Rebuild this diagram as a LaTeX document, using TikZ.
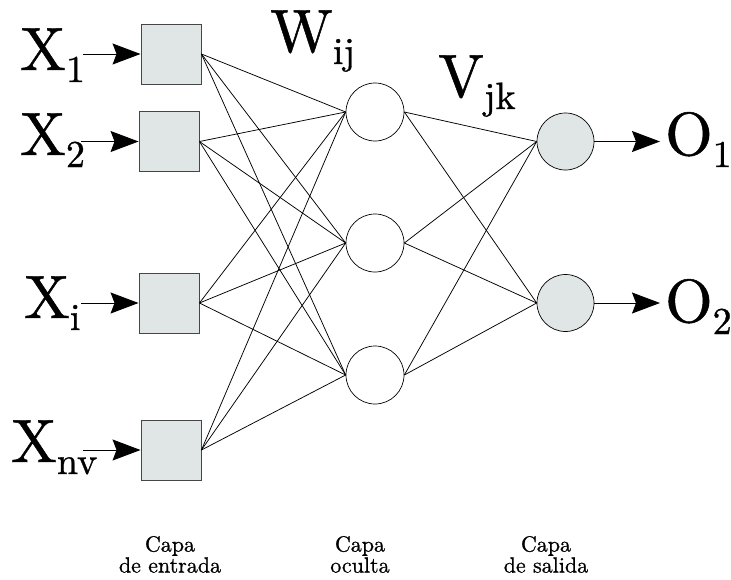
\documentclass[tikz,border=0pt]{standalone}
\usepackage{fontspec}
\setmainfont{lmroman10-regular.otf}[FakeBold=0.8]
\usetikzlibrary{arrows.meta}
\definecolor{cellfill}{RGB}{224,229,229}
\definecolor{cellline}{RGB}{70,70,70}
% large symbol with a lowered index
\newcommand{\varlbl}[2]{{\fontsize{61}{61}\selectfont #1}{\fontsize{38}{38}\selectfont\raisebox{-12pt}{#2}}}
\begin{document}
\begin{tikzpicture}[x=1pt,y=-1pt,
  inunit/.style={rectangle, draw=cellline, fill=cellfill, line width=0.9pt, minimum size=60pt, inner sep=0},
  hidunit/.style={circle, draw=black, fill=white, line width=0.7pt, minimum size=58pt, inner sep=0},
  outunit/.style={hidunit, fill=cellfill, minimum size=57pt},
  link/.style={line width=0.75pt},
  feed/.style={line width=1pt, -{Stealth[length=28pt,width=21pt,inset=4pt]}},
  varname/.style={anchor=base west, inner sep=0},
  layername/.style={anchor=south, inner sep=0, align=center, font=\fontsize{22}{21}\selectfont}]
\useasboundingbox (0,0) rectangle (731,579);

% input layer
\node[inunit] (in1) at (171,54) {};
\node[inunit] (in2) at (169,141.5) {};
\node[inunit] (ini) at (169,303) {};
\node[inunit] (inn) at (171,450) {};

% hidden layer
\node[hidunit] (h1) at (375,112) {};
\node[hidunit] (h2) at (375,243) {};
\node[hidunit] (h3) at (375,375) {};

% output layer
\node[outunit] (o1) at (565.5,141.5) {};
\node[outunit] (o2) at (565.5,303) {};

% weights input -> hidden
\foreach \a in {in1,in2,ini,inn}
  \foreach \b in {h1,h2,h3}
    \draw[link] (\a.east) -- (\b.west);
% weights hidden -> output
\foreach \a in {h1,h2,h3}
  \foreach \b in {o1,o2}
    \draw[link] (\a.east) -- (\b.west);

% input arrows
\coordinate (s1) at (83,54);
\coordinate (s2) at (81,141.5);
\coordinate (si) at (81,303);
\coordinate (sn) at (83,450);
\draw[feed] (s1) -- (in1.west);
\draw[feed] (s2) -- (in2.west);
\draw[feed] (si) -- (ini.west);
\draw[feed] (sn) -- (inn.west);

% output arrows
\coordinate (t1) at (660,141.5);
\coordinate (t2) at (660,303);
\draw[feed] (o1.east) -- (t1);
\draw[feed] (o2.east) -- (t2);

% variable names
\node[varname] (lx1) at (20,70) {\varlbl{X}{1}};
\node[varname] (lx2) at (20,155) {\varlbl{X}{2}};
\node[varname] (lxi) at (24,318) {\varlbl{X}{i}};
\node[varname] (lxn) at (11,462) {\varlbl{X}{nv}};
\node[varname] (lw) at (270,52) {\varlbl{W}{ij}};
\node[varname] (lv) at (438,97) {\varlbl{V}{jk}};
\node[varname] (lo1) at (665,155) {\varlbl{O}{1}};
\node[varname] (lo2) at (665,322) {\varlbl{O}{2}};

% layer names
\node[layername] (c1) at (170,573) {Capa\\de entrada};
\node[layername] (c2) at (360,573) {Capa\\oculta};
\node[layername] (c3) at (546,573) {Capa\\de salida};
\end{tikzpicture}
\end{document}
